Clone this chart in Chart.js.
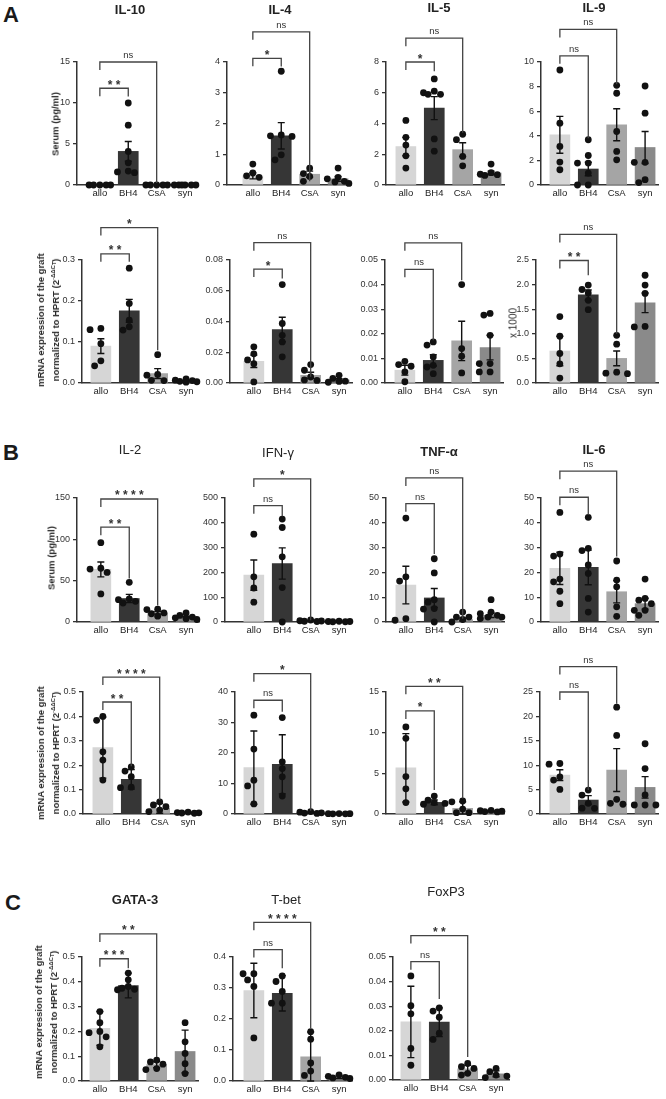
<!DOCTYPE html>
<html>
<head>
<meta charset="utf-8">
<script src="https://cdn.jsdelivr.net/npm/chart.js@4.4.1/dist/chart.umd.min.js"></script>
<style>
  body { margin: 0; background: #fff; width: 666px; height: 1099px; position: relative; overflow: hidden;
         font-family: "Liberation Sans", Arial, sans-serif; color: #222; }
  canvas { position: absolute; }
  .letter { position: absolute; font-weight: bold; font-size: 22px; line-height: 1; color: #1a1a1a; }
  .ytitle { position: absolute; transform: translate(-50%, -50%) rotate(-90deg); white-space: nowrap;
            font-size: 9.5px; font-weight: bold; text-align: center; line-height: 15px; color: #2a2a2a;
            will-change: transform; }
  .ytitle sup { font-size: 6px; line-height: 0; vertical-align: 4px; }
  .ytitle sub { font-size: 5px; line-height: 0; vertical-align: -1px; }
</style>
</head>
<body>
<div class="letter" style="left:3px;top:4px">A</div>
<div class="letter" style="left:3px;top:442px">B</div>
<div class="letter" style="left:5px;top:892px">C</div>

<div class="ytitle" style="left:55px;top:124px">Serum (pg/ml)</div>
<div class="ytitle" style="left:47.5px;top:320px">mRNA expression of the graft<br>normalized to HPRT (2<sup>-ΔΔC<sub>T</sub></sup>)</div>
<div class="ytitle" style="left:513px;top:323px;font-weight:normal;font-size:10px">x 1000</div>
<div class="ytitle" style="left:51px;top:558px">Serum (pg/ml)</div>
<div class="ytitle" style="left:47.5px;top:753px">mRNA expression of the graft<br>normalized to HPRT (2<sup>-ΔΔC<sub>T</sub></sup>)</div>
<div class="ytitle" style="left:45.5px;top:1012px">mRNA expression of the graft<br>normalized to HPRT (2<sup>-ΔΔC<sub>T</sub></sup>)</div>

<script>
// groups on every x axis
const GROUPS = ["allo", "BH4", "CsA", "syn"];

// ---- A, serum ----
const il10sMean = [0, 4.1, 0, 0];
const il10sErr = [0, 1.2, 0, 0];
const il10sPts = [[0, 0, 0, 0, 0], [10, 7.3, 4.1, 2.7, 1.6, 1.5, 1.7], [0, 0, 0, 0, 0], [0, 0, 0, 0, 0, 0]];
const il10sSig = [[1, "**", 11.8, 10.8], [2, "ns", 15, 0.25]]; // [to group, label, bracket level, right leg end]
const il10sTicks = ["0", "5", "10", "15"];

const il4sMean = [0.3, 1.6, 0.35, 0.2];
const il4sErr = [0.1, 0.43, 0.1, 0.08];
const il4sPts = [[0.68, 0.39, 0.3, 0.25], [3.7, 1.63, 1.6, 1.58, 0.98, 0.82], [0.55, 0.37, 0.28, 0.12], [0.55, 0.25, 0.2, 0.12, 0.1, 0.05]];
const il4sSig = [[1, "*", 4.12, 3.85], [2, "ns", 4.98, 0.12]];
const il4sTicks = ["0", "1", "2", "3", "4"];

const il5sMean = [2.5, 5.0, 2.3, 0.78];
const il5sErr = [0.6, 0.75, 0.45, 0.12];
const il5sPts = [[4.2, 3.1, 2.6, 1.9, 1.1], [6.9, 6.1, 6.0, 5.9, 5.9, 3.0, 2.2], [3.3, 2.95, 1.86, 1.25], [1.36, 0.8, 0.7, 0.62, 0.67]];
const il5sSig = [[1, "*", 8.0, 7.4], [2, "ns", 9.55, 3.4]];
const il5sTicks = ["0", "2", "4", "6", "8"];

const il9sMean = [4.08, 1.3, 4.9, 3.05];
const il9sErr = [1.5, 0.55, 1.3, 1.3];
const il9sPts = [[9.35, 5.03, 3.14, 1.86, 1.24], [3.68, 2.4, 1.78, 1.78, 0.97, 0, 0], [8.1, 7.46, 4.35, 2.73, 2.05], [8.05, 5.84, 1.84, 1.84, 0.43, 0.2]];
const il9sSig = [[1, "ns", 10.5, 3.8], [2, "ns", 12.65, 8.2]];
const il9sTicks = ["0", "2", "4", "6", "8", "10"];

// ---- A, graft mRNA ----
const il10mMean = [0.09, 0.176, 0.023, 0.005];
const il10mErr = [0.018, 0.028, 0.012, 0.0015];
const il10mPts = [[0.133, 0.13, 0.096, 0.054, 0.042], [0.28, 0.194, 0.153, 0.137, 0.129], [0.069, 0.021, 0.019, 0.0065, 0.006], [0.01, 0.007, 0.006, 0.004, 0.003, 0.002]];
const il10mSig = [[1, "**", 0.315, 0.296], [2, "*", 0.379, 0.08]];
const il10mTicks = ["0.0", "0.1", "0.2", "0.3"];

const il4mMean = [0.0141, 0.0348, 0.005, 0.002];
const il4mErr = [0.004, 0.008, 0.002, 0.0008];
const il4mPts = [[0.0235, 0.019, 0.015, 0.0126, 0.0007], [0.064, 0.0387, 0.031, 0.0267, 0.017], [0.012, 0.0083, 0.0039, 0.002, 0.0017], [0.005, 0.003, 0.0012, 0.001, 0.0005]];
const il4mSig = [[1, "*", 0.0741, 0.068], [2, "ns", 0.0913, 0.004]];
const il4mTicks = ["0.00", "0.02", "0.04", "0.06", "0.08"];

const il5mMean = [0.0052, 0.0092, 0.0171, 0.0144];
const il5mErr = [0.002, 0.0023, 0.008, 0.005];
const il5mPts = [[0.0088, 0.0075, 0.0068, 0.0045, 0.0005], [0.0167, 0.0154, 0.0106, 0.0072, 0.0065, 0.0038], [0.04, 0.014, 0.0109, 0.0041], [0.0283, 0.0276, 0.0194, 0.0079, 0.0079, 0.0045, 0.0045]];
const il5mSig = [[1, "ns", 0.0462, 0.0174], [2, "ns", 0.057, 0.0418]];
const il5mTicks = ["0.00", "0.01", "0.02", "0.03", "0.04", "0.05"];

const il9mMean = [0.65, 1.79, 0.5, 1.63];
const il9mErr = [0.3, 0.1, 0.15, 0.2];
const il9mPts = [[1.35, 0.95, 0.6, 0.39, 0.1], [1.99, 1.9, 1.83, 1.68, 1.49], [0.97, 0.79, 0.22, 0.2, 0.19], [2.19, 1.99, 1.82, 1.15, 1.14]];
const il9mSig = [[1, "**", 2.49, 2.19], [2, "ns", 3.02, 1.0]];
const il9mTicks = ["0.0", "0.5", "1.0", "1.5", "2.0", "2.5"];

// ---- B, serum ----
const il2sMean = [63.6, 28.4, 11, 6];
const il2sErr = [9, 5, 1.5, 1];
const il2sPts = [[96, 65, 64, 60, 34], [48, 28, 27, 25, 23], [15.4, 15, 11, 10, 7], [11, 8, 6, 5, 4, 3]];
const il2sSig = [[1, "**", 114.7, 52.7], [2, "****", 148.8, 20]];
const il2sTicks = ["0", "50", "100", "150"];

const ifnsMean = [189, 236, 5, 2];
const ifnsErr = [61, 63, 1.5, 0.5];
const ifnsPts = [[354, 182, 137, 80], [415, 381, 263, 139, 0], [8, 5, 4, 3, 2], [3, 2, 2, 1, 1]];
const ifnsSig = [[1, "ns", 469, 426], [2, "*", 577, 7]];
const ifnsTicks = ["0", "100", "200", "300", "400", "500"];

const tnfsMean = [14.9, 9.7, 1, 2.7];
const tnfsErr = [7.6, 3.8, 0.6, 0.9];
const tnfsPts = [[41.9, 18.2, 16.5, 0.7, 1.35], [25.5, 19.8, 9, 8, 5.4, 5.2, 0], [4, 2, 2, 1, 0], [9, 4, 3.4, 2.7, 2, 1.4, 2]];
const tnfsSig = [[1, "ns", 47.7, 27.4], [2, "ns", 58.1, 1.35]];
const tnfsTicks = ["0", "10", "20", "30", "40", "50"];

const il6sMean = [21.6, 22, 12.2, 7.4];
const il6sErr = [6.5, 7, 4.5, 2.2];
const il6sPts = [[44.2, 27.4, 26.6, 17.3, 16.2, 12.4, 7.4], [42.2, 29.7, 28.8, 23, 19.6, 9.5, 4], [24.6, 16.9, 14.2, 6.1, 2.3], [17.3, 9.5, 8.8, 7.4, 4.7, 4.7, 2.7]];
const il6sSig = [[1, "ns", 50.3, 43.2], [2, "ns", 60.8, 26.4]];
const il6sTicks = ["0", "10", "20", "30", "40", "50"];

// ---- B, graft mRNA ----
const il2mMean = [0.272, 0.142, 0.023, 0.006];
const il2mErr = [0.125, 0.04, 0.02, 0.002];
const il2mPts = [[0.4, 0.384, 0.255, 0.221, 0.139], [0.193, 0.176, 0.153, 0.108, 0.11], [0.05, 0.037, 0.03, 0.016, 0.01], [0.008, 0.006, 0.005, 0.004, 0.003]];
const il2mSig = [[1, "**", 0.459, 0.196], [2, "****", 0.561, 0.057]];
const il2mTicks = ["0.0", "0.1", "0.2", "0.3", "0.4", "0.5"];

const ifnmMean = [15.2, 16.3, 0.45, 0.1];
const ifnmErr = [12, 9.7, 0.2, 0.05];
const ifnmPts = [[32.4, 21.3, 11.1, 9.2, 3.3], [31.6, 17.1, 14.9, 12.2, 5.9], [0.8, 0.6, 0.4, 0.3, 0.2], [0.15, 0.1, 0.1, 0.05, 0.05]];
const ifnmSig = [[1, "ns", 37.3, 33.5], [2, "*", 46, 1.1]];
const ifnmTicks = ["0", "10", "20", "30", "40"];

const tnfmMean = [5.68, 1.43, 0.7, 0.35];
const tnfmErr = [4.2, 0.3, 0.8, 0.07];
const tnfmPts = [[10.7, 9.3, 4.6, 3.1, 1.4], [2.2, 1.7, 1.4, 1.3, 1.2], [1.6, 1.5, 0.6, 0.16, 0.16], [0.45, 0.4, 0.35, 0.3, 0.25]];
const tnfmSig = [[1, "*", 12.67, 2.94], [2, "**", 15.7, 1.9]];
const tnfmTicks = ["0", "5", "10", "15"];

const il6mMean = [7.97, 2.86, 9.0, 5.45];
const il6mErr = [1.1, 0.9, 4.4, 2.2];
const il6mPts = [[10.35, 10.2, 7.6, 6.95, 5.04], [4.9, 3.88, 2.18, 1.16, 1.2], [21.9, 16.1, 3.0, 2.18, 2.0], [14.4, 9.3, 3.9, 1.84, 1.84, 1.84]];
const il6mSig = [[1, "ns", 25, 4.9], [2, "ns", 30.2, 22.6]];
const il6mTicks = ["0", "5", "10", "15", "20", "25"];

// ---- C, transcription factors ----
const gataMean = [0.212, 0.385, 0.066, 0.119];
const gataErr = [0.068, 0.05, 0.012, 0.086];
const gataPts = [[0.28, 0.235, 0.2, 0.195, 0.178, 0.138], [0.435, 0.408, 0.381, 0.374, 0.368, 0.37], [0.084, 0.077, 0.068, 0.05, 0.046], [0.235, 0.158, 0.111, 0.07, 0.03]];
const gataSig = [[1, "***", 0.493, 0.455], [2, "**", 0.593, 0.097]];
const gataTicks = ["0.0", "0.1", "0.2", "0.3", "0.4", "0.5"];

const tbetMean = [0.292, 0.283, 0.078, 0.013];
const tbetErr = [0.088, 0.057, 0.08, 0.005];
const tbetPts = [[0.346, 0.346, 0.326, 0.305, 0.139], [0.339, 0.321, 0.289, 0.251, 0.251], [0.159, 0.135, 0.058, 0.032, 0.018], [0.02, 0.015, 0.012, 0.01, 0.008]];
const tbetSig = [[1, "ns", 0.424, 0.364], [2, "****", 0.512, 0.17]];
const tbetTicks = ["0.0", "0.1", "0.2", "0.3", "0.4"];

const foxMean = [0.0236, 0.0235, 0.0045, 0.0025];
const foxErr = [0.0145, 0.0058, 0.0015, 0.0012];
const foxPts = [[0.0423, 0.0302, 0.0269, 0.0128, 0.006], [0.0293, 0.028, 0.0255, 0.019, 0.0165], [0.0067, 0.0054, 0.0047, 0.0027, 0.002], [0.0047, 0.0034, 0.002, 0.0016, 0.001]];
const foxSig = [[1, "ns", 0.0481, 0.0329], [2, "**", 0.0587, 0.0094]];
const foxTicks = ["0.00", "0.01", "0.02", "0.03", "0.04", "0.05"];

// bar fills per group
const COLORS = ["#d6d6d6", "#363636", "#a5a5a5", "#8a8a8a"];
const SP = 28.6;      // px between group centres
const PADT = 75;      // room for title + brackets
const PADB = 22;      // room for group labels
const FONT = '"Liberation Sans", Arial, sans-serif';

Chart.defaults.font.family = FONT;
Chart.defaults.color = "#333";

// ax = y-axis x, top/bot = pixel of max tick / zero, off = first group offset, tdy = title height above plot
const panels = [
  { title: "IL-10", mean: il10sMean, err: il10sErr, pts: il10sPts, sig: il10sSig, ticks: il10sTicks, ax: 77, top: 62, bot: 185, off: 23, tdy: 52, bold: true },
  { title: "IL-4", mean: il4sMean, err: il4sErr, pts: il4sPts, sig: il4sSig, ticks: il4sTicks, ax: 227, top: 62, bot: 185, off: 26, tdy: 52, bold: true },
  { title: "IL-5", mean: il5sMean, err: il5sErr, pts: il5sPts, sig: il5sSig, ticks: il5sTicks, ax: 386, top: 62, bot: 185, off: 20, tdy: 54, bold: true },
  { title: "IL-9", mean: il9sMean, err: il9sErr, pts: il9sPts, sig: il9sSig, ticks: il9sTicks, ax: 541, top: 62, bot: 185, off: 19, tdy: 54, bold: true },

  { title: "", mean: il10mMean, err: il10mErr, pts: il10mPts, sig: il10mSig, ticks: il10mTicks, ax: 82, top: 260, bot: 383, off: 19 },
  { title: "", mean: il4mMean, err: il4mErr, pts: il4mPts, sig: il4mSig, ticks: il4mTicks, ax: 230, top: 260, bot: 383, off: 24 },
  { title: "", mean: il5mMean, err: il5mErr, pts: il5mPts, sig: il5mSig, ticks: il5mTicks, ax: 385, top: 260, bot: 383, off: 20 },
  { title: "", mean: il9mMean, err: il9mErr, pts: il9mPts, sig: il9mSig, ticks: il9mTicks, ax: 536, top: 260, bot: 383, off: 24 },

  { title: "IL-2", mean: il2sMean, err: il2sErr, pts: il2sPts, sig: il2sSig, ticks: il2sTicks, ax: 77, top: 498, bot: 622, off: 24, tdy: 48, bold: false },
  { title: "IFN-γ", mean: ifnsMean, err: ifnsErr, pts: ifnsPts, sig: ifnsSig, ticks: ifnsTicks, ax: 225, top: 498, bot: 622, off: 29, tdy: 45, bold: false },
  { title: "TNF-α", mean: tnfsMean, err: tnfsErr, pts: tnfsPts, sig: tnfsSig, ticks: tnfsTicks, ax: 386, top: 498, bot: 622, off: 20, tdy: 46, bold: true },
  { title: "IL-6", mean: il6sMean, err: il6sErr, pts: il6sPts, sig: il6sSig, ticks: il6sTicks, ax: 541, top: 498, bot: 622, off: 19, tdy: 48, bold: true },

  { title: "", mean: il2mMean, err: il2mErr, pts: il2mPts, sig: il2mSig, ticks: il2mTicks, ax: 83, top: 692, bot: 814, off: 20 },
  { title: "", mean: ifnmMean, err: ifnmErr, pts: ifnmPts, sig: ifnmSig, ticks: ifnmTicks, ax: 235, top: 692, bot: 814, off: 19 },
  { title: "", mean: tnfmMean, err: tnfmErr, pts: tnfmPts, sig: tnfmSig, ticks: tnfmTicks, ax: 386, top: 692, bot: 814, off: 20 },
  { title: "", mean: il6mMean, err: il6mErr, pts: il6mPts, sig: il6mSig, ticks: il6mTicks, ax: 540, top: 692, bot: 814, off: 20 },

  { title: "GATA-3", mean: gataMean, err: gataErr, pts: gataPts, sig: gataSig, ticks: gataTicks, ax: 82, top: 957, bot: 1081, off: 18, tdy: 57, bold: true },
  { title: "T-bet", mean: tbetMean, err: tbetErr, pts: tbetPts, sig: tbetSig, ticks: tbetTicks, ax: 233, top: 957, bot: 1081, off: 21, tdy: 57, bold: false },
  { title: "FoxP3", mean: foxMean, err: foxErr, pts: foxPts, sig: foxSig, ticks: foxTicks, ax: 393, top: 957, bot: 1080, off: 18, tdy: 65, bold: false },
];

// push dots sideways when they would overlap (beeswarm-ish), offsets in group units
function spread(vals, ymax, plotH) {
  const cand = [0, -0.22, 0.22, -0.38, 0.38, -0.11, 0.11, -0.3, 0.3];
  const placed = [];
  const out = new Array(vals.length).fill(0);
  const order = vals.map((v, i) => i).sort((a, b) => vals[b] - vals[a]);
  order.forEach((i) => {
    const v = vals[i];
    let best = 0, bestScore = Infinity;
    for (const c of cand) {
      let score = 0;
      for (const q of placed) {
        const d = Math.hypot((q.x - c) * SP, ((q.y - v) / ymax) * plotH);
        if (d < 6.5) score += 6.5 - d;
      }
      if (score < bestScore - 1e-9) { bestScore = score; best = c; }
      if (score === 0) break;
    }
    placed.push({ x: best, y: v });
    out[i] = best;
  });
  return out;
}

function makeChart(p) {
  const plotW = p.off + 3 * SP + 13;
  const padL = p.ax < 120 ? p.ax : 42;
  const plotH = p.bot - p.top;
  const cv = document.createElement("canvas");
  cv.width = padL + plotW + 6;
  cv.height = PADT + plotH + PADB;
  cv.style.left = (p.ax - padL) + "px";
  cv.style.top = (p.top - PADT) + "px";
  document.body.appendChild(cv);

  const tickVals = p.ticks.map(Number);
  const ymax = tickVals[tickVals.length - 1];
  const dots = p.pts.flatMap((arr, g) => {
    const jit = spread(arr, ymax, plotH);
    return arr.map((v, i) => ({ x: g + jit[i], y: v }));
  });

  const extras = {
    id: "extras",
    afterDatasetDraw(chart, args) {
      if (args.index !== 1) return;
      // error bars, drawn over the bars but under the dots
      const { ctx, scales: { x, y } } = chart;
      ctx.save();
      ctx.strokeStyle = "#111";
      ctx.lineWidth = 1.4;
      p.mean.forEach((m, g) => {
        const e = p.err[g];
        if (!e) return;
        const px = x.getPixelForValue(g);
        const yh = y.getPixelForValue(m + e);
        const yl = y.getPixelForValue(Math.max(0, m - e));
        ctx.beginPath();
        ctx.moveTo(px, yl); ctx.lineTo(px, yh);
        ctx.moveTo(px - 3.5, yh); ctx.lineTo(px + 3.5, yh);
        ctx.moveTo(px - 3.5, yl); ctx.lineTo(px + 3.5, yl);
        ctx.stroke();
      });
      ctx.restore();
    },
    afterDraw(chart) {
      const { ctx, chartArea, scales: { x, y } } = chart;
      ctx.save();
      // significance brackets
      ctx.strokeStyle = "#444";
      ctx.fillStyle = "#333";
      ctx.lineWidth = 1.3;
      ctx.textAlign = "center";
      ctx.textBaseline = "alphabetic";
      p.sig.forEach(([to, label, level, end]) => {
        const x0 = x.getPixelForValue(0), x1 = x.getPixelForValue(to);
        const yl = y.getPixelForValue(level), ye = y.getPixelForValue(end);
        ctx.beginPath();
        ctx.moveTo(x0, yl + 8); ctx.lineTo(x0, yl); ctx.lineTo(x1, yl); ctx.lineTo(x1, ye);
        ctx.stroke();
        const mx = (x0 + x1) / 2;
        if (label === "ns") {
          ctx.font = "9.5px " + FONT;
          ctx.fillText(label, mx, yl - 4);
        } else {
          ctx.font = "bold 12px " + FONT;
          ctx.fillText(label.split("").join(" "), mx, yl + 0.5);
        }
      });
      // panel title
      if (p.title) {
        ctx.fillStyle = "#222";
        ctx.font = (p.bold ? "bold " : "") + "13px " + FONT;
        ctx.textBaseline = "middle";
        ctx.fillText(p.title, chartArea.left + 53, chartArea.top - p.tdy);
      }
      ctx.restore();
    },
  };

  new Chart(cv, {
    type: "bar",
    data: {
      datasets: [
        { type: "scatter", data: dots, order: 0, pointRadius: 3.4, pointBackgroundColor: "#111",
          pointBorderWidth: 0, clip: false },
        { type: "bar", data: p.mean.map((m, g) => ({ x: g, y: m })), order: 1, backgroundColor: COLORS,
          barThickness: 20, borderWidth: 0, clip: false },
      ],
    },
    options: {
      responsive: false,
      animation: false,
      devicePixelRatio: 1,
      events: [],
      layout: { padding: { top: PADT, right: 6, left: 0, bottom: 0 } },
      plugins: { legend: { display: false }, tooltip: { enabled: false } },
      scales: {
        x: {
          type: "linear",
          offset: false,
          min: -p.off / SP,
          max: (plotW - p.off) / SP,
          afterBuildTicks: (s) => { s.ticks = GROUPS.map((_, i) => ({ value: i })); },
          afterFit: (s) => { s.height = PADB; },
          ticks: { callback: (v) => GROUPS[v], color: "#222", font: { size: 9.5 }, padding: 3,
                   autoSkip: false, maxRotation: 0 },
          grid: { display: false, drawTicks: false, offset: false },
          border: { color: "#333", width: 1.5 },
        },
        y: {
          type: "linear",
          min: 0,
          max: ymax,
          afterBuildTicks: (s) => { s.ticks = tickVals.map((v) => ({ value: v })); },
          afterFit: (s) => { s.width = padL; },
          ticks: { callback: (v, i) => p.ticks[i], color: "#333", font: { size: 9 }, padding: 3 },
          grid: { drawOnChartArea: false, drawTicks: true, tickLength: 4, color: "#333", lineWidth: 1.3 },
          border: { color: "#333", width: 1.5 },
        },
      },
    },
    plugins: [extras],
  });
}

panels.forEach(makeChart);
</script>
</body>
</html>
